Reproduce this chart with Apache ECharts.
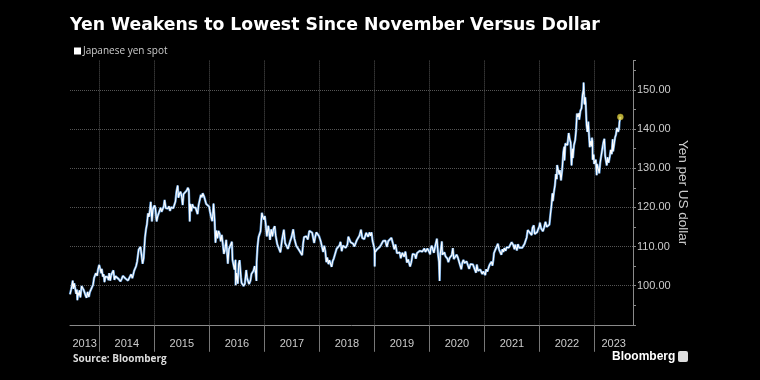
<!DOCTYPE html>
<html>
<head>
<meta charset="utf-8">
<script src="https://cdn.jsdelivr.net/npm/echarts@6/dist/echarts.min.js"></script>
<style>
html,body{margin:0;padding:0;background:#000;}
#c{width:760px;height:380px;}
</style>
</head>
<body>
<div id="c"></div>
<script>
// ---- data ----
const dates = [
"2013-06-20","2013-06-24","2013-06-28","2013-07-03","2013-07-08","2013-07-12","2013-07-18","2013-07-24","2013-07-31","2013-08-05","2013-08-08","2013-08-13","2013-08-19","2013-08-22","2013-08-28","2013-09-05","2013-09-11","2013-09-19","2013-09-25","2013-10-01","2013-10-08","2013-10-15","2013-10-23","2013-10-30","2013-11-07","2013-11-13","2013-11-20","2013-11-27","2013-12-03","2013-12-09","2013-12-13","2013-12-17","2013-12-23","2013-12-31",
"2014-01-02","2014-01-08","2014-01-13","2014-01-17","2014-01-24","2014-01-30","2014-02-04","2014-02-10","2014-02-18","2014-02-25","2014-03-03","2014-03-07","2014-03-14","2014-03-20","2014-03-27","2014-04-04","2014-04-11","2014-04-18","2014-04-24","2014-05-01","2014-05-09","2014-05-21","2014-05-29","2014-06-06","2014-06-13","2014-06-24","2014-07-02","2014-07-10","2014-07-18","2014-07-31","2014-08-08","2014-08-15","2014-08-20","2014-08-28","2014-09-02","2014-09-09","2014-09-19","2014-09-25","2014-10-01","2014-10-07","2014-10-15","2014-10-22","2014-10-31","2014-11-07","2014-11-13","2014-11-20","2014-11-26","2014-12-02","2014-12-08","2014-12-16","2014-12-22","2014-12-31",
"2015-01-02","2015-01-08","2015-01-16","2015-01-23","2015-01-30","2015-02-05","2015-02-12","2015-02-18","2015-02-25","2015-03-05","2015-03-10","2015-03-18","2015-03-26","2015-04-02","2015-04-08","2015-04-15","2015-04-22","2015-04-30","2015-05-07","2015-05-15","2015-05-21","2015-05-28","2015-06-05","2015-06-10","2015-06-16","2015-06-24","2015-07-01","2015-07-08","2015-07-14","2015-07-24","2015-08-04","2015-08-12","2015-08-18","2015-08-24","2015-08-27","2015-09-04","2015-09-10","2015-09-18","2015-09-29","2015-10-02","2015-10-08","2015-10-15","2015-10-22","2015-10-30","2015-11-06","2015-11-13","2015-11-18","2015-11-27","2015-12-03","2015-12-11","2015-12-18","2015-12-24","2015-12-31",
"2016-01-05","2016-01-12","2016-01-20","2016-01-25","2016-01-29","2016-02-05","2016-02-11","2016-02-17","2016-02-24","2016-03-02","2016-03-10","2016-03-17","2016-03-24","2016-03-31","2016-04-07","2016-04-14","2016-04-22","2016-04-28","2016-05-03","2016-05-10","2016-05-18","2016-05-30","2016-06-03","2016-06-10","2016-06-16","2016-06-23","2016-06-24","2016-06-30","2016-07-08","2016-07-14","2016-07-20","2016-07-29","2016-08-02","2016-08-10","2016-08-16","2016-08-24","2016-09-02","2016-09-08","2016-09-15","2016-09-21","2016-09-30","2016-10-07","2016-10-20","2016-10-28","2016-11-04","2016-11-09","2016-11-10","2016-11-16","2016-11-23","2016-11-28","2016-12-06","2016-12-15","2016-12-21","2016-12-30",
"2017-01-03","2017-01-09","2017-01-17","2017-01-24","2017-01-27","2017-02-07","2017-02-15","2017-02-23","2017-03-02","2017-03-10","2017-03-17","2017-03-27","2017-04-05","2017-04-17","2017-04-27","2017-05-10","2017-05-18","2017-05-26","2017-06-06","2017-06-14","2017-06-21","2017-06-30","2017-07-11","2017-07-19","2017-07-31","2017-08-08","2017-08-17","2017-08-24","2017-09-08","2017-09-15","2017-09-21","2017-09-29","2017-10-06","2017-10-16","2017-10-26","2017-11-06","2017-11-14","2017-11-27","2017-12-05","2017-12-12","2017-12-20","2017-12-29",
"2018-01-05","2018-01-10","2018-01-19","2018-01-26","2018-02-02","2018-02-09","2018-02-16","2018-02-22","2018-03-02","2018-03-08","2018-03-16","2018-03-23","2018-03-30","2018-04-06","2018-04-17","2018-04-25","2018-05-04","2018-05-15","2018-05-21","2018-05-29","2018-06-06","2018-06-15","2018-06-25","2018-07-06","2018-07-12","2018-07-19","2018-07-27","2018-08-06","2018-08-13","2018-08-21","2018-08-31","2018-09-06","2018-09-14","2018-09-24","2018-10-04","2018-10-12","2018-10-26","2018-11-07","2018-11-12","2018-11-20","2018-11-30","2018-12-06","2018-12-13","2018-12-20","2018-12-31",
"2019-01-02","2019-01-03","2019-01-04","2019-01-10","2019-01-17","2019-01-28","2019-02-06","2019-02-15","2019-02-28","2019-03-06","2019-03-15","2019-03-25","2019-04-03","2019-04-12","2019-04-24","2019-05-06","2019-05-13","2019-05-21","2019-05-31","2019-06-07","2019-06-18","2019-06-25","2019-07-05","2019-07-10","2019-07-18","2019-07-26","2019-08-05","2019-08-13","2019-08-26","2019-09-03","2019-09-12","2019-09-19","2019-09-27","2019-10-03","2019-10-11","2019-10-17","2019-10-29","2019-11-07","2019-11-15","2019-11-29","2019-12-06","2019-12-12","2019-12-19","2019-12-31",
"2020-01-06","2020-01-10","2020-01-17","2020-01-24","2020-01-31","2020-02-07","2020-02-14","2020-02-20","2020-02-28","2020-03-05","2020-03-09","2020-03-13","2020-03-17","2020-03-24","2020-03-27","2020-04-02","2020-04-10","2020-04-17","2020-04-30","2020-05-06","2020-05-15","2020-05-22","2020-05-29","2020-06-05","2020-06-11","2020-06-23","2020-06-30","2020-07-08","2020-07-17","2020-07-31","2020-08-07","2020-08-14","2020-08-21","2020-08-28","2020-09-04","2020-09-11","2020-09-21","2020-09-30","2020-10-07","2020-10-16","2020-10-23","2020-11-06","2020-11-11","2020-11-19","2020-11-27","2020-12-04","2020-12-11","2020-12-17","2020-12-24","2020-12-31",
"2021-01-06","2021-01-12","2021-01-20","2021-01-29","2021-02-05","2021-02-12","2021-02-17","2021-02-23","2021-03-01","2021-03-05","2021-03-12","2021-03-18","2021-03-23","2021-03-31","2021-04-08","2021-04-16","2021-04-23","2021-04-30","2021-05-07","2021-05-13","2021-05-21","2021-05-28","2021-06-04","2021-06-11","2021-06-17","2021-06-30","2021-07-06","2021-07-12","2021-07-19","2021-07-23","2021-08-04","2021-08-11","2021-08-19","2021-08-31","2021-09-09","2021-09-15","2021-09-24","2021-09-30","2021-10-08","2021-10-15","2021-10-20","2021-10-28","2021-11-04","2021-11-10","2021-11-16","2021-11-24","2021-11-30","2021-12-03","2021-12-10","2021-12-17","2021-12-22","2021-12-31",
"2022-01-04","2022-01-12","2022-01-18","2022-01-24","2022-02-01","2022-02-10","2022-02-18","2022-02-24","2022-03-01","2022-03-08","2022-03-15","2022-03-22","2022-03-28","2022-03-31","2022-04-07","2022-04-14","2022-04-20","2022-04-26","2022-04-28","2022-05-09","2022-05-12","2022-05-17","2022-05-24","2022-06-01","2022-06-09","2022-06-15","2022-06-16","2022-06-22","2022-06-30","2022-07-06","2022-07-14","2022-07-21","2022-07-27","2022-08-02","2022-08-08","2022-08-11","2022-08-18","2022-08-26","2022-09-01","2022-09-07","2022-09-13","2022-09-21","2022-09-22","2022-09-30","2022-10-07","2022-10-14","2022-10-20","2022-10-21","2022-10-24","2022-10-27","2022-11-01","2022-11-04","2022-11-10","2022-11-15","2022-11-21","2022-11-25","2022-12-01","2022-12-06","2022-12-13","2022-12-15","2022-12-19","2022-12-20","2022-12-27","2022-12-30",
"2023-01-04","2023-01-10","2023-01-16","2023-01-18","2023-01-24","2023-01-31","2023-02-02","2023-02-08","2023-02-14","2023-02-22","2023-03-02","2023-03-08","2023-03-13","2023-03-17","2023-03-24","2023-03-29","2023-04-05","2023-04-13","2023-04-19","2023-04-26","2023-05-02","2023-05-05","2023-05-11","2023-05-18","2023-05-24","2023-05-30","2023-06-02","2023-06-07","2023-06-13","2023-06-16","2023-06-21","2023-06-22"
];
const yenSpot = [
97.8,98.0,99.1,100.0,101.3,99.2,100.6,99.4,97.9,99.0,96.3,98.2,97.5,98.8,97.0,99.9,100.3,98.9,98.5,97.5,96.9,98.4,97.1,98.4,98.0,99.6,100.2,102.0,102.6,103.2,103.6,102.5,104.1,105.3,
104.8,104.8,103.2,104.3,102.3,102.9,100.9,102.3,102.4,102.2,101.4,103.2,101.3,102.7,102.2,103.9,101.5,102.4,102.2,102.5,101.7,101.1,101.7,102.5,102.0,101.8,101.6,101.3,101.3,102.9,101.9,102.4,103.8,103.7,105.0,106.2,109.2,108.7,109.9,108.1,105.6,107.0,112.3,114.5,115.7,118.5,117.6,119.0,121.4,116.4,119.5,119.8,
120.5,119.7,116.4,117.7,117.5,117.3,119.9,118.9,118.9,120.3,121.9,119.8,119.3,119.7,120.3,119.1,120.0,119.5,119.8,119.3,121.5,124.0,125.6,122.5,123.4,124.0,122.9,120.6,123.4,123.8,124.3,125.0,124.4,116.4,120.9,119.0,120.8,120.0,119.6,119.9,119.8,118.3,120.6,120.6,123.2,122.6,123.6,122.8,122.6,120.9,121.3,120.8,120.2,
119.0,117.7,116.5,118.3,121.0,116.9,111.0,114.1,112.1,114.0,113.2,111.3,113.0,112.5,108.1,109.3,111.7,108.5,105.6,109.3,109.6,111.2,106.6,107.0,104.1,106.6,100.1,103.2,100.5,105.5,106.5,102.1,100.7,101.2,99.9,100.5,104.0,101.9,102.1,100.4,101.3,103.0,103.8,105.0,103.1,101.2,106.0,109.9,112.4,112.5,113.9,118.6,117.6,116.9,
117.8,115.9,112.6,112.9,115.3,111.7,114.4,112.6,114.5,115.2,112.7,110.6,110.7,108.5,111.5,114.3,110.9,111.3,109.4,109.3,111.4,112.4,114.4,112.0,110.2,110.7,109.2,109.6,107.8,110.8,112.4,112.5,112.6,111.8,114.0,114.5,113.5,110.9,112.6,113.6,113.4,112.7,
113.1,111.3,110.8,108.6,110.2,108.8,106.0,107.2,105.5,106.5,106.0,104.8,106.3,106.9,107.1,109.4,109.1,110.3,111.2,108.8,110.2,110.6,109.7,110.5,112.5,113.0,111.1,111.4,110.7,110.0,111.0,111.6,112.0,112.8,114.3,112.2,111.9,113.5,114.0,112.5,113.6,112.7,113.6,111.4,109.7,
108.9,104.9,108.5,108.3,109.2,109.4,109.9,110.5,111.4,111.9,111.5,109.9,111.4,111.9,112.2,110.5,109.3,110.5,108.3,108.2,108.5,107.0,108.4,108.9,107.4,108.7,105.9,106.7,104.9,106.0,108.1,108.4,107.9,106.9,108.3,108.7,108.9,109.4,108.7,109.5,108.6,108.6,109.5,108.6,
108.0,109.5,110.2,109.3,108.4,109.8,109.8,112.0,107.9,106.1,101.2,107.9,107.5,111.3,107.9,107.8,108.5,107.5,106.9,106.0,107.1,107.6,107.8,109.6,106.8,106.5,107.9,107.2,107.0,104.2,105.9,106.6,105.8,105.4,106.2,106.2,104.3,105.5,106.0,105.4,104.7,103.3,105.4,103.8,104.1,104.1,104.0,103.0,103.6,103.2,
102.7,104.2,103.6,104.7,105.4,105.0,106.1,105.1,106.7,108.3,109.0,108.8,108.6,110.7,109.2,108.8,107.9,109.3,108.6,109.6,108.9,109.8,109.5,109.7,110.2,111.1,110.9,110.3,109.3,110.5,109.0,110.6,109.7,110.0,109.7,109.4,110.7,111.4,112.3,114.2,114.5,113.6,113.7,112.9,114.8,115.4,113.2,112.8,113.4,113.7,114.3,115.1,
116.1,114.6,114.3,113.9,114.9,116.3,115.0,114.5,115.0,115.6,118.3,120.6,123.6,121.6,123.9,125.7,128.5,127.2,130.8,130.9,128.4,129.5,126.9,129.8,134.2,135.5,132.0,136.3,135.8,135.9,139.0,137.4,136.6,130.7,135.0,132.6,135.9,137.2,139.6,144.0,143.1,144.1,142.4,144.7,145.3,148.7,150.1,151.9,148.9,146.3,148.1,146.6,141.0,139.3,141.9,139.1,135.4,136.9,135.6,137.8,136.8,132.2,133.5,131.1,
131.0,132.2,128.2,131.1,130.2,130.1,128.7,131.4,132.9,134.9,136.7,137.5,133.3,132.3,130.7,132.8,131.4,133.0,134.7,133.6,137.4,134.3,134.6,137.9,138.6,140.3,139.9,139.3,140.1,141.8,141.9,143.1
];
const yearBoundaries = ["2014-01-01","2015-01-01","2016-01-01","2017-01-01","2018-01-01","2019-01-01","2020-01-01","2021-01-01","2022-01-01","2023-01-01"];
const axisStart = "2013-06-20";
const axisEnd = "2023-09-14";
const yTicks = [100,110,120,130,140,150];

function ms(s){ const p = s.split('-').map(Number); return new Date(p[0], p[1]-1, p[2]).getTime(); }
const series = dates.map((d,i)=>[ms(d), yenSpot[i]]);
const bounds = yearBoundaries.map(ms);
const edges = [ms(axisStart)].concat(bounds, [ms(axisEnd)]);
const labelPos = [];
for (let i=0;i<edges.length-1;i++) labelPos.push((edges[i]+edges[i+1])/2);

const chart = echarts.init(document.getElementById('c'), null, {renderer:'canvas'});
const grey = '#8a8a8a';
chart.setOption({
  backgroundColor:'#000',
  animation:false,
  title:[
    {text:'Yen Weakens to Lowest Since November Versus Dollar', left:70, top:17, padding:0,
     textStyle:{color:'#fff', fontSize:17.3, fontWeight:'bold', fontFamily:'DejaVu Sans'}},
    {text:'Source: Bloomberg', left:73, top:354, padding:0,
     textStyle:{color:'#ddd', fontSize:10, fontWeight:'bold', fontFamily:'Open Sans'}},
    {text:'Bloomberg', left:612, top:351, padding:0,
     textStyle:{color:'#fff', fontSize:12, fontWeight:'bold', fontFamily:'Liberation Sans'}}
  ],
  legend:{
    data:['Japanese yen spot'], left:74, top:46, padding:0, itemWidth:7, itemHeight:7, itemGap:4,
    icon:'rect', textStyle:{color:'#ccc', fontSize:10, fontFamily:'Open Sans', padding:[0,0,0,-3]}
  },
  graphic:[
    {type:'rect', left:678, top:351, shape:{width:10, height:11, r:2}, style:{fill:'#ddd'}}
  ],
  grid:{left:70, right:127, top:60.6, bottom:55.2, containLabel:false},
  xAxis:{
    type:'value', min:ms(axisStart), max:ms(axisEnd),
    axisLine:{show:true, lineStyle:{color:grey, width:1}},
    axisTick:{show:true, customValues:bounds, length:27, lineStyle:{color:'#777'}},
    splitLine:{show:true, lineStyle:{color:'#555', type:'dotted'}},
    axisLabel:{show:true, customValues:labelPos, margin:14, color:'#ccc', fontSize:11,
      fontFamily:'Liberation Sans', hideOverlap:false, showMinLabel:true, showMaxLabel:true,
      formatter:function(v){ return String(new Date(v).getFullYear()); }}
  },
  yAxis:{
    type:'value', position:'right', min:90, max:157.5, interval:10,
    name:'Yen per US dollar', nameLocation:'middle', nameRotate:-90, nameGap:43, nameMoveOverlap:false,
    nameTextStyle:{color:'#ccc', fontSize:13.5, fontFamily:'Liberation Sans'},
    axisLine:{show:true, lineStyle:{color:grey}},
    axisTick:{show:true, length:3, lineStyle:{color:grey}},
    minorTick:{show:true, splitNumber:2, length:3, lineStyle:{color:grey}},
    splitLine:{show:true, showMaxLine:false, showMinLine:false, lineStyle:{color:'#555', type:'dotted'}},
    axisLabel:{color:'#ccc', fontSize:11, margin:4, fontFamily:'Liberation Sans', showMaxLabel:false, showMinLabel:false,
      formatter:function(v){ return yTicks.indexOf(v)>=0 ? v.toFixed(2) : ''; }}
  },
  series:[
    {name:'spot-band', type:'line', data:series, symbol:'none', silent:true,
     lineStyle:{color:'#5f9ad6', width:2.4}, z:2},
    {name:'Japanese yen spot', type:'line', data:series, symbol:'none',
     itemStyle:{color:'#fff'}, lineStyle:{color:'#ffffff', width:1.1}, z:3},
    {name:'last', type:'scatter', data:[series[series.length-1]], symbol:'circle', symbolSize:6,
     itemStyle:{color:'#e3d545', borderColor:'#b8a82a', borderWidth:0.5}, z:4}
  ]
});
</script>
</body>
</html>
